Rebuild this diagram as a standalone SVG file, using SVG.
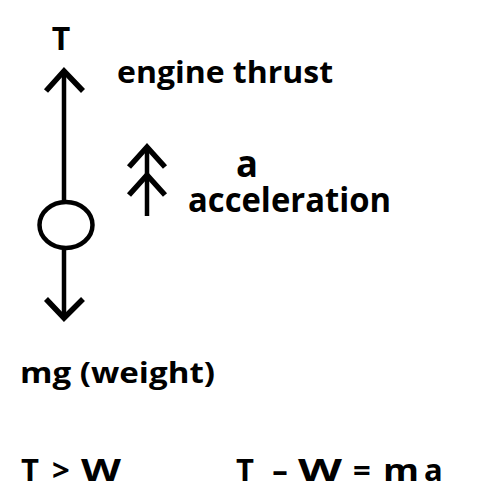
<svg xmlns="http://www.w3.org/2000/svg" width="499" height="498" viewBox="0 0 499 498">
<style>
.t{font-family:"Open Sans","Liberation Sans",sans-serif;font-weight:bold;fill:#000}
.b{font-size:31px}
.ln{stroke:#000;fill:none;stroke-width:4.5}
.hd{stroke:#000;fill:none;stroke-width:5.5;stroke-linejoin:miter;stroke-linecap:butt}
</style>
<rect width="499" height="498" fill="#fff"/>
<g id="connectors">
<line class="ln" x1="64" y1="72" x2="64" y2="201"/>
<polyline class="hd" points="46,91 64,71 83,91"/>
<line class="ln" x1="64" y1="249" x2="64" y2="318"/>
<polyline class="hd" points="46,299 64,318 83,299"/>
<line class="ln" x1="147" y1="148" x2="147" y2="216"/>
<polyline class="hd" points="129,167 147,147 165,167"/>
<polyline class="hd" points="129,195 147,175 165,195"/>
</g>
<g id="mass">
<ellipse cx="66" cy="225" rx="26.5" ry="23" fill="#fff" stroke="#000" stroke-width="4.5"/>
</g>
<g id="labels">
<text class="t" x="61" y="50" font-size="32" text-anchor="middle">T</text>
<text class="t" x="117" y="83" font-size="30" textLength="216" lengthAdjust="spacingAndGlyphs">engine thrust</text>
<text class="t" x="236" y="177" font-size="38" textLength="22" lengthAdjust="spacingAndGlyphs">a</text>
<text class="t" x="188" y="212" font-size="34" textLength="203" lengthAdjust="spacingAndGlyphs">acceleration</text>
<text class="t" x="20" y="383" font-size="28" fill="#101028" textLength="195" lengthAdjust="spacingAndGlyphs">mg (weight)</text>
</g>
<g id="equations">
<text class="t b" x="21" y="481">T</text>
<text class="t b" x="52" y="481">&gt;</text>
<text class="t b" x="81" y="481" textLength="40" lengthAdjust="spacingAndGlyphs">W</text>
<text class="t b" x="236" y="481">T</text>
<text class="t b" x="272" y="481" textLength="16" lengthAdjust="spacingAndGlyphs">-</text>
<text class="t b" x="298" y="481" textLength="44" lengthAdjust="spacingAndGlyphs">W</text>
<text class="t b" x="353" y="481">=</text>
<text class="t b" x="383" y="481" textLength="36" lengthAdjust="spacingAndGlyphs">m</text>
<text class="t b" x="424" y="481">a</text>
</g>
</svg>
